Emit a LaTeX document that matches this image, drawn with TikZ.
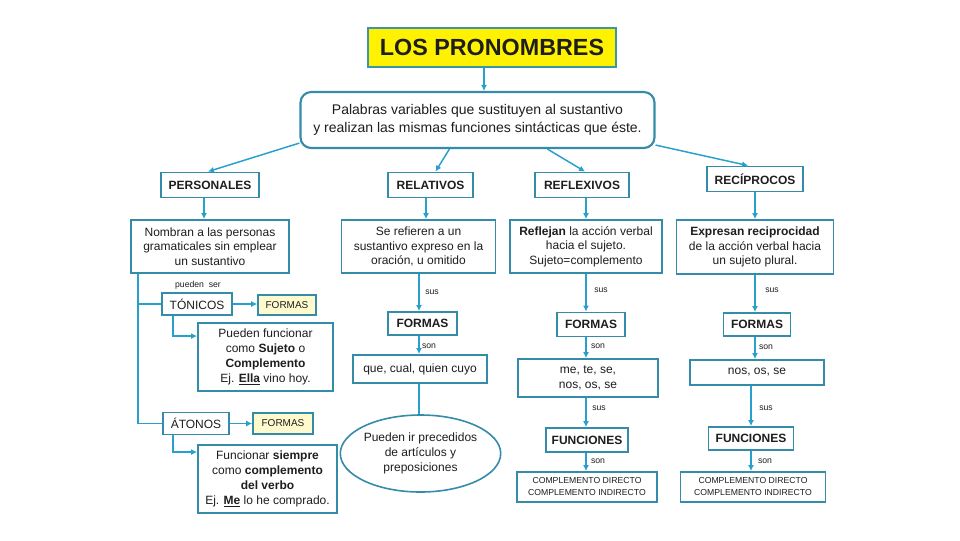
\documentclass[tikz,border=0pt]{standalone}
\usepackage{fontspec}
\setmainfont{Liberation Sans}
\usetikzlibrary{arrows.meta,calc,shapes.geometric}
\definecolor{bord}{RGB}{52,140,168}
\definecolor{arrc}{RGB}{40,160,205}
\definecolor{ttlbord}{RGB}{60,150,170}
\definecolor{ylw}{RGB}{255,250,205}
\definecolor{txt}{RGB}{30,30,30}
\begin{document}
\begin{tikzpicture}[x=0.75pt,y=-0.75pt,
  sz/.style 2 args={minimum width=#1*0.75pt, minimum height=#2*0.75pt},
  box/.style={draw=bord, line width=1.4pt, fill=white, inner sep=0pt, align=center, text=txt},
  ttl/.style={draw=ttlbord, line width=2.2pt, fill=yellow, inner sep=0pt, text=txt, font=\fontsize{17.5}{20}\selectfont\bfseries},
  head/.style={box, font=\fontsize{9}{11}\selectfont\bfseries},
  body/.style={box, font=\fontsize{9}{11}\selectfont},
  small/.style={box, font=\fontsize{6.5}{9}\selectfont},
  yform/.style={draw=bord, line width=1.2pt, fill=ylw, inner sep=0pt, text=txt, font=\fontsize{7.5}{9}\selectfont},
  arr/.style={draw=arrc, line width=1.1pt, -{Latex[length=4.5pt,width=4.5pt]}},
  ln/.style={draw=arrc, line width=1.1pt},
  lbl/.style={font=\fontsize{6.5}{7}\selectfont, text=txt, inner sep=0pt}
]
\fill[white] (0,0) rectangle (960,540);
\useasboundingbox (0,0) rectangle (960,540);

% title and definition
\node[ttl, sz={248}{39}] (title) at (492,47.5) {LOS PRONOMBRES};
\node[box, rounded corners=8pt, line width=1.6pt, sz={354}{56}, font=\fontsize{10.5}{14}\selectfont] (main) at (477.5,120)
  {Palabras variables que sustituyen al sustantivo\\ y realizan las mismas funciones sintácticas que éste.};

% class headers
\node[head, sz={98}{25}] (pers) at (210,185) {PERSONALES};
\node[head, sz={85}{25}] (rel) at (430.5,185) {RELATIVOS};
\node[head, sz={94}{25}] (refl) at (582,185) {REFLEXIVOS};
\node[head, sz={96}{25}] (reci) at (755,179) {RECÍPROCOS};

% descriptions
\node[body, sz={158}{53}] (nomb) at (210,246.5) {Nombran a las personas\\gramaticales sin emplear\\un sustantivo};
\node[body, sz={154}{53}] (serf) at (418.5,246.5) {Se refieren a un\\sustantivo expreso en la\\oración, u omitido};
\node[body, sz={152}{53}] (refj) at (586,246.5) {\textbf{Reflejan} la acción verbal\\hacia el sujeto.\\Sujeto=complemento};
\node[body, sz={157}{54}] (expr) at (755,247) {\textbf{Expresan reciprocidad}\\de la acción verbal hacia\\un sujeto plural.};

% relativos column
\node[head, sz={69}{23}] (formL) at (422.5,323.5) {FORMAS};
\node[body, sz={134}{28}] (queL) at (420,369) {que, cual, quien cuyo};
\node[draw=bord, line width=1.2pt, ellipse, fill=white, minimum width=137*0.75pt, minimum height=77*0.75pt,
  inner sep=0pt, align=center, text=txt, font=\fontsize{9}{11}\selectfont] (ell) at (420.5,453.5)
  {Pueden ir precedidos\\de artículos y\\preposiciones};

% reflexivos column
\node[head, sz={68}{24}] (formF) at (591,324.5) {FORMAS};
\node[body, sz={140}{38}] (meteF) at (588,378) {me, te, se,\\nos, os, se};
\node[head, sz={82}{24}] (funcF) at (587,440) {FUNCIONES};
\node[small, sz={140}{30}] (compF) at (587,487) {COMPLEMENTO DIRECTO\\COMPLEMENTO INDIRECTO};

% reciprocos column
\node[head, sz={67}{23}] (formE) at (757,324.5) {FORMAS};
\node[body, sz={134}{25}] (nosE) at (757,372.5) {nos, os, se};
\node[head, sz={85}{23}] (funcE) at (751,438.5) {FUNCIONES};
\node[small, sz={145}{30}] (compE) at (753,487) {COMPLEMENTO DIRECTO\\COMPLEMENTO INDIRECTO};

% personales column
\node[body, sz={70}{22}] (ton) at (197,304) {TÓNICOS};
\node[yform, sz={58}{20}] (formT) at (287,305) {FORMAS};
\node[body, sz={135}{68}, font=\fontsize{9}{11.3}\selectfont] (pued) at (265.5,357)
  {Pueden funcionar\\como \textbf{Sujeto} o\\\textbf{Complemento}\\Ej. \textbf{\underline{Ella}} vino hoy.};
\node[body, sz={66}{22}] (ato) at (196,423.5) {ÁTONOS};
\node[yform, sz={60}{21}] (formA) at (283,423.5) {FORMAS};
\node[body, sz={139}{68}, font=\fontsize{9}{11.3}\selectfont] (func) at (267.5,479)
  {Funcionar \textbf{siempre}\\como \textbf{complemento}\\\textbf{del verbo}\\Ej. \textbf{\underline{Me}} lo he comprado.};

% column guide coordinates
\coordinate (cM) at (484,0);
\coordinate (cP) at (204,0);
\coordinate (cL1) at (426,0);
\coordinate (cL) at (419,0);
\coordinate (cF) at (586,0);
\coordinate (cE) at (755,0);
\coordinate (cE2) at (751,0);
\coordinate (cT) at (138,0);
\coordinate (cS) at (173,0);

% connectors from the title and main box
\draw[arr] (title.south -| cM) -- (main.north -| cM);
\draw[arr] ($(main.south west)+(0,-6)$) -- ($(pers.north)+(-2,0)$);
\draw[arr] ($(main.south west)+(150,0)$) -- ($(rel.north)+(5,0)$);
\draw[arr] ($(main.south west)+(248,0)$) -- ($(refl.north)+(3,0)$);
\draw[arr] ($(main.south east)+(0,-4)$) -- ($(reci.north)+(-7,0)$);

% header to description
\draw[arr] (pers.south -| cP) -- (nomb.north -| cP);
\draw[arr] (rel.south -| cL1) -- (serf.north -| cL1);
\draw[arr] (refl.south -| cF) -- (refj.north -| cF);
\draw[arr] (reci.south -| cE) -- (expr.north -| cE);

% relativos chain
\draw[arr] (serf.south -| cL) -- (formL.north -| cL);
\draw[arr] (formL.south -| cL) -- (queL.north -| cL);
\draw[ln] (queL.south -| cL) -- (ell.north -| cL);
\node[lbl] (l1) at (432,292) {sus};
\node[lbl] (l2) at (429,346) {son};

% reflexivos chain
\draw[arr] (refj.south -| cF) -- (formF.north -| cF);
\draw[arr] (formF.south -| cF) -- (meteF.north -| cF);
\draw[arr] (meteF.south -| cF) -- (funcF.north -| cF);
\draw[arr] (funcF.south -| cF) -- (compF.north -| cF);
\node[lbl] (l3) at (601,290) {sus};
\node[lbl] (l4) at (598,346) {son};
\node[lbl] (l5) at (599,408) {sus};
\node[lbl] (l6) at (598,461) {son};

% reciprocos chain
\draw[arr] (expr.south -| cE) -- (formE.north -| cE);
\draw[arr] (formE.south -| cE) -- (nosE.north -| cE);
\draw[arr] (nosE.south -| cE2) -- (funcE.north -| cE2);
\draw[arr] (funcE.south -| cE2) -- (compE.north -| cE2);
\node[lbl] (l7) at (772,290) {sus};
\node[lbl] (l8) at (766,347) {son};
\node[lbl] (l9) at (766,408) {sus};
\node[lbl] (l10) at (765,461) {son};

% personales tree
\draw[ln] (nomb.south -| cT) |- (ato.west);
\draw[ln] (cT |- ton.west) -- (ton.west);
\node[lbl] (pser) at (198,285) {pueden\ \ ser};
\draw[arr] (ton.east) -- (ton.east -| formT.west);
\draw[arr] (ton.south -| cS) |- ($(pued.north west)+(0,14)$);
\draw[arr] (ato.east) -- (ato.east -| formA.west);
\draw[arr] (ato.south -| cS) |- ($(func.north west)+(0,8)$);
\end{tikzpicture}
\end{document}
